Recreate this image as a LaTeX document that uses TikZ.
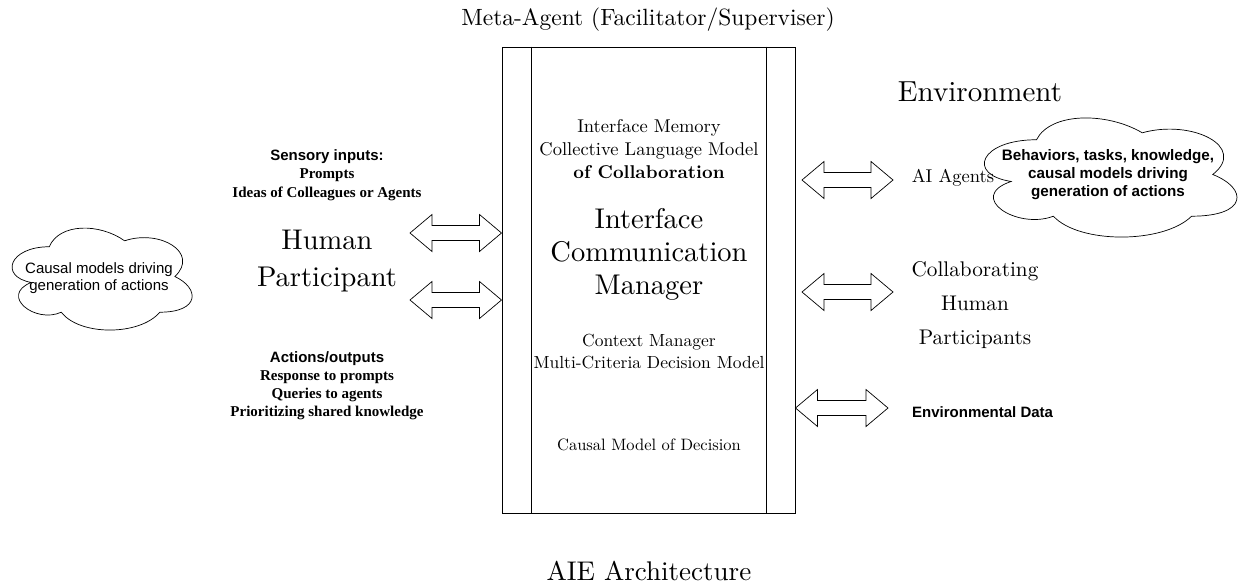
\documentclass[tikz,border=0pt]{standalone}
\usepackage{fontspec}
\setmainfont{lmroman10-regular.otf}[BoldFont=lmroman10-bold.otf]
\setsansfont{Liberation Sans}
\newfontfamily\tms{Liberation Serif}
\usetikzlibrary{calc}

\tikzset{
	txt/.style={align=center, inner sep=0pt},
	fat/.style={draw, line width=0.7pt, line join=miter},
	% cloud outline in a unit box, scaled by x and y
	pics/puff/.style={code={
		\draw[line width=0.7pt] (0.25,0.25) .. controls (0.05,0.25) and (0,0.5) .. (0.16,0.55)
			.. controls (0,0.66) and (0.18,0.9) .. (0.31,0.8)
			.. controls (0.4,1) and (0.7,1) .. (0.8,0.8)
			.. controls (1,0.8) and (1,0.6) .. (0.875,0.5)
			.. controls (1,0.3) and (0.8,0.1) .. (0.625,0.2)
			.. controls (0.5,0.05) and (0.3,0.05) .. (0.25,0.25) -- cycle;}}
}

% hollow two-headed block arrow between two points on one line
\newcommand{\fatarrow}[2]{%
	\draw[fat] let \p1=(#1), \p2=(#2) in
		(\x1,\y1) -- (\x1+22pt,\y1+18.5pt) -- (\x1+22pt,\y1+7.5pt) -- (\x2-22pt,\y1+7.5pt)
		-- (\x2-22pt,\y1+18.5pt) -- (\x2,\y1) -- (\x2-22pt,\y1-18.5pt) -- (\x2-22pt,\y1-7.5pt)
		-- (\x1+22pt,\y1-7.5pt) -- (\x1+22pt,\y1-18.5pt) -- cycle;}

\begin{document}
\begin{tikzpicture}[x=1pt,y=-1pt]
	\useasboundingbox (0,0) rectangle (1239,584);
	
	% central manager
	\node[draw, line width=1pt, minimum width=293, minimum height=466] (icm) at (648.5,280) {};
	\draw[line width=1pt] ([xshift=30pt]icm.north west) -- ([xshift=30pt]icm.south west);
	\draw[line width=1pt] ([xshift=-29pt]icm.north east) -- ([xshift=-29pt]icm.south east);
	
	\node[txt, font=\fontsize{23.5}{28}\selectfont] (meta) at (648,20) {Meta-Agent (Facilitator/Superviser)};
	\node[txt, font=\fontsize{18.5}{23}\selectfont] (mem) at (649,149) {Interface Memory\\Collective Language Model\\\textbf{of Collaboration}};
	\node[txt, font=\fontsize{28.5}{33}\selectfont] (mgr) at (649,254) {Interface\\Communication\\Manager};
	\node[txt, font=\fontsize{17.5}{22}\selectfont] (ctx) at (649,352) {Context Manager\\Multi-Criteria Decision Model};
	\node[txt, font=\fontsize{16.5}{20}\selectfont] (dec) at (649,445) {Causal Model of Decision};
	\node[txt, font=\fontsize{27}{30}\selectfont] (aie) at (649,571) {AIE Architecture};
	
	% human side
	\path (-1,217) pic[x=201pt, y=-119pt] {puff};
	\node[txt, font=\sffamily\fontsize{15}{17}\selectfont] (hcloud) at (99,278) {Causal models driving\\generation of actions};
	\node[txt, font=\tms\bfseries\fontsize{15}{18.5}\selectfont] (sens) at (327,175) {{\sffamily Sensory inputs:}\\Prompts\\Ideas of Colleagues or Agents};
	\node[txt, font=\fontsize{28.5}{37}\selectfont] (hp) at (327,261) {Human\\Participant};
	\node[txt, font=\tms\bfseries\fontsize{15}{18}\selectfont] (act) at (327,386) {{\sffamily Actions/outputs}\\Response to prompts\\Queries to agents\\Prioritizing shared knowledge};
	
	\coordinate (in1) at (410,233);
	\coordinate (in2) at (410,300);
	\fatarrow{in1}{icm.west |- in1}
	\fatarrow{in2}{icm.west |- in2}
	
	% environment side
	\node[txt, font=\fontsize{29}{32}\selectfont] (env) at (980,92) {Environment};
	\node[txt, font=\fontsize{18.5}{22}\selectfont] (ai) at (953,178) {AI Agents};
	\path (966,105) pic[x=282pt, y=-139pt] {puff};
	\node[txt, font=\sffamily\bfseries\fontsize{15.2}{18}\selectfont] (acloud) at (1108,175) {Behaviors, tasks, knowledge,\\causal models driving\\generation of actions};
	\node[txt, font=\fontsize{21.2}{34}\selectfont] (collab) at (975,305) {Collaborating\\Human\\Participants};
	\node[txt, anchor=west, font=\sffamily\bfseries\fontsize{15}{16}\selectfont] (data) at (912,412) {Environmental Data};
	
	\coordinate (ag0) at (802,180);
	\coordinate (ag1) at (893,180);
	\coordinate (hu0) at (802,292);
	\coordinate (hu1) at (893,292);
	\coordinate (ed1) at (888,408);
	\fatarrow{ag0}{ag1}
	\fatarrow{hu0}{hu1}
	\fatarrow{icm.east |- ed1}{ed1}
\end{tikzpicture}
\end{document}
